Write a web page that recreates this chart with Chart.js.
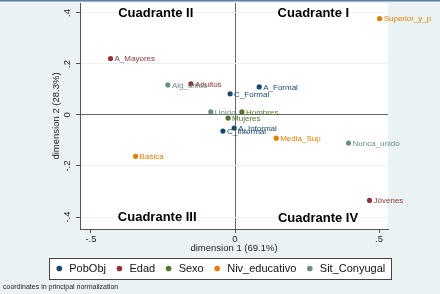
<!DOCTYPE html>
<html>
<head>
<meta charset="utf-8">
<script src="https://cdn.jsdelivr.net/npm/chart.js@4.4.0/dist/chart.umd.min.js"></script>
<style>
  html, body { margin: 0; padding: 0; background: #eaf2f3; }
  #wrap { width: 440px; height: 294px; position: relative; }
</style>
</head>
<body>
<div id="wrap"><canvas id="ca"></canvas></div>
<script>
// ---- data ----
const groups = ["PobObj", "Edad", "Sexo", "Niv_educativo", "Sit_Conyugal"];
const groupColors = ["#1a476f", "#90353b", "#55752f", "#e37e00", "#6e8e84"];

const pobObjNames = ["A_Formal", "C_Formal", "A_Informal", "C_Informal"];
const pobObjX = [0.084, -0.017, -0.003, -0.042];
const pobObjY = [0.110, 0.083, -0.051, -0.063];

const edadNames = ["A_Mayores", "Adultos", "Jóvenes"];
const edadX = [-0.432, -0.153, 0.467];
const edadY = [0.221, 0.122, -0.335];

const sexoNames = ["Hombres", "Mujeres"];
const sexoX = [0.024, -0.024];
const sexoY = [0.012, -0.012];

const nivNames = ["Superior_y_p", "Media_Sup", "Básica"];
const nivX = [0.502, 0.143, -0.345];
const nivY = [0.378, -0.091, -0.162];

const sitNames = ["Alg_unido", "Unido", "Nunca_unido"];
const sitX = [-0.233, -0.084, 0.394];
const sitY = [0.118, 0.012, -0.110];

const xTicks = [-0.5, 0, 0.5];
const xTickLabels = ["-.5", "0", ".5"];
const yTicks = [-0.4, -0.2, 0, 0.2, 0.4];
const yTickLabels = ["-.4", "-.2", "0", ".2", ".4"];

const quadrantNames = ["Cuadrante II", "Cuadrante I", "Cuadrante III", "Cuadrante IV"];
const quadrantX = [-0.275, 0.272, -0.27, 0.288];
const quadrantY = [0.40, 0.40, -0.40, -0.405];

const xTitle = "dimension 1 (69.1%)";
const yTitle = "dimension 2 (28.3%)";
const note = "coordinates in principal normalization";

const FONT = "'Liberation Sans', Arial, sans-serif";

/* -------------------------------------------------------
   build datasets
------------------------------------------------------- */
function pts(xs, ys) {
    return xs.map((x, i) => ({ x: x, y: ys[i] }));
}
const allNames = [pobObjNames, edadNames, sexoNames, nivNames, sitNames];
const allPts = [pts(pobObjX, pobObjY), pts(edadX, edadY), pts(sexoX, sexoY), pts(nivX, nivY), pts(sitX, sitY)];

const datasets = groups.map((g, i) => ({
    label: g,
    data: allPts[i],
    names: allNames[i],
    backgroundColor: groupColors[i],
    borderColor: groupColors[i],
    pointRadius: 2.6,
    pointHoverRadius: 2.6,
    borderWidth: 0
}));

/* -------------------------------------------------------
   plugins
------------------------------------------------------- */
function legendRect(chart) {
    const boxes = chart.legend && chart.legend.legendHitBoxes;
    if (!boxes || !boxes.length) return null;
    const l = Math.min(...boxes.map(b => b.left)) - 6;
    const r = Math.max(...boxes.map(b => b.left + b.width)) + 6;
    const t = boxes[0].top - 5;
    const h = boxes[0].height + 10;
    return { l: Math.round(l), t: Math.round(t), w: Math.round(r - l), h: Math.round(h) };
}

const plotBg = {
    id: "plotBg",
    beforeDraw(chart) {
        const { ctx, chartArea: a } = chart;
        ctx.save();
        ctx.fillStyle = "#eaf2f3";
        ctx.fillRect(0, 0, chart.width, chart.height);
        ctx.fillStyle = "#5b7fa1";
        ctx.fillRect(0, 0, chart.width, 1.5);
        ctx.fillStyle = "#ffffff";
        ctx.fillRect(a.left, a.top, a.right - a.left, a.bottom - a.top);
        const lr = legendRect(chart);
        if (lr) ctx.fillRect(lr.l, lr.t, lr.w + 1, lr.h + 1);
        ctx.restore();
    }
};

const pointLabels = {
    id: "pointLabels",
    afterDatasetsDraw(chart) {
        const ctx = chart.ctx;
        ctx.save();
        ctx.font = "8px " + FONT;
        ctx.textBaseline = "middle";
        ctx.textAlign = "left";
        chart.data.datasets.forEach((ds, di) => {
            const meta = chart.getDatasetMeta(di);
            meta.data.forEach((el, i) => {
                ctx.fillStyle = ds.borderColor;
                ctx.fillText(ds.names[i], el.x + 4, el.y + 0.5);
            });
        });
        ctx.restore();
    }
};

const quadrants = {
    id: "quadrants",
    afterDatasetsDraw(chart) {
        const { ctx, scales: { x, y } } = chart;
        ctx.save();
        ctx.font = "bold 13px " + FONT;
        ctx.fillStyle = "#000";
        ctx.textAlign = "center";
        ctx.textBaseline = "middle";
        quadrantNames.forEach((q, i) => {
            ctx.fillText(q, x.getPixelForValue(quadrantX[i]), y.getPixelForValue(quadrantY[i]));
        });
        ctx.restore();
    }
};

const extras = {
    id: "extras",
    afterDraw(chart) {
        const { ctx, scales: { y } } = chart;
        ctx.save();
        ctx.fillStyle = "#222";
        ctx.textAlign = "center";
        ctx.textBaseline = "middle";
        // rotated y tick labels
        ctx.font = "9.5px " + FONT;
        yTicks.forEach((v, i) => {
            ctx.save();
            ctx.translate(67, y.getPixelForValue(v));
            ctx.rotate(-Math.PI / 2);
            ctx.fillText(yTickLabels[i], 0, 0);
            ctx.restore();
        });
        // y axis title
        ctx.save();
        ctx.translate(56, (y.top + y.bottom) / 2);
        ctx.rotate(-Math.PI / 2);
        ctx.fillText(yTitle, 0, 0);
        ctx.restore();
        // legend frame
        const lr = legendRect(chart);
        if (lr) {
            ctx.strokeStyle = "#444";
            ctx.lineWidth = 1;
            ctx.strokeRect(lr.l + 0.5, lr.t + 0.5, lr.w, lr.h);
        }
        // note
        ctx.font = "7px " + FONT;
        ctx.fillStyle = "#222";
        ctx.textAlign = "left";
        ctx.fillText(note, 3, 287);
        ctx.restore();
    }
};

/* -------------------------------------------------------
   chart
------------------------------------------------------- */
new Chart(document.getElementById("ca"), {
    type: "scatter",
    data: { datasets },
    plugins: [plotBg, pointLabels, quadrants, extras],
    options: {
        responsive: true,
        maintainAspectRatio: false,
        animation: false,
        events: [],
        layout: { padding: { left: 40, right: 40, top: 3, bottom: 10 } },
        plugins: {
            tooltip: { enabled: false },
            legend: {
                position: "bottom",
                labels: {
                    usePointStyle: true,
                    pointStyle: "circle",
                    boxWidth: 9,
                    boxHeight: 4,
                    padding: 9,
                    color: "#111",
                    font: { family: FONT, size: 11 }
                }
            }
        },
        scales: {
            x: {
                type: "linear",
                min: -0.538,
                max: 0.531,
                afterBuildTicks: s => { s.ticks = xTicks.map(v => ({ value: v })); },
                afterFit: s => { s.height = 25; },
                border: { display: true, color: "#555", width: 1 },
                grid: {
                    color: c => (c.tick && c.tick.value === 0 ? "#666" : "rgba(0,0,0,0)"),
                    tickColor: "#555",
                    tickLength: 4
                },
                ticks: {
                    color: "#222",
                    padding: 1,
                    font: { family: FONT, size: 9.5 },
                    callback: v => xTickLabels[xTicks.indexOf(v)]
                },
                title: {
                    display: true,
                    text: xTitle,
                    color: "#222",
                    padding: 0,
                    font: { family: FONT, size: 9.5 }
                }
            },
            y: {
                type: "linear",
                min: -0.447,
                max: 0.439,
                afterBuildTicks: s => { s.ticks = yTicks.map(v => ({ value: v })); },
                afterFit: s => { s.width = 40; },
                border: { display: true, color: "#555", width: 1 },
                grid: {
                    color: c => (c.tick && c.tick.value === 0 ? "#666" : "#eaf2f3"),
                    tickColor: "#555",
                    tickLength: 4
                },
                ticks: { display: false },
                title: { display: false }
            },
            // empty spacer on the right so the plot ends where the reference's does
            yRight: {
                type: "linear",
                position: "right",
                display: true,
                afterFit: s => { s.width = 12; },
                border: { display: false },
                grid: { display: false, drawTicks: false },
                ticks: { display: false }
            }
        }
    }
});
</script>
</body>
</html>
